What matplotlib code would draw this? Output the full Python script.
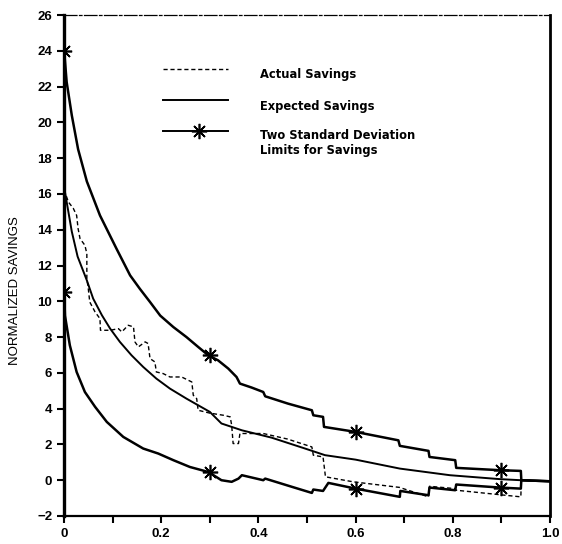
import numpy as np
import matplotlib.pyplot as plt

# ---------------- data ----------------
actual_x = [0, 0.002, 0.009, 0.019, 0.026, 0.029, 0.033, 0.043, 0.047, 0.047, 0.05,
            0.053, 0.064, 0.074, 0.075, 0.095, 0.112, 0.119, 0.132, 0.143, 0.146,
            0.153, 0.167, 0.173, 0.177, 0.187, 0.19, 0.204, 0.218, 0.242, 0.263,
            0.266, 0.273, 0.276, 0.3, 0.328, 0.342, 0.345, 0.348, 0.359, 0.362,
            0.41, 0.46, 0.51, 0.513, 0.533, 0.538, 0.595, 0.69, 0.75, 0.752,
            0.805, 0.807, 0.94, 0.941, 1.0]
actual_y = [17.8, 16.1, 15.55, 15.2, 14.8, 14.06, 13.5, 13.13, 12.66, 11.27, 10.7,
            9.96, 9.4, 9.03, 8.38, 8.38, 8.47, 8.29, 8.66, 8.57, 7.73,
            7.45, 7.73, 7.64, 6.8, 6.61, 6.05, 5.96, 5.77, 5.77, 5.49,
            4.75, 4.56, 3.91, 3.75, 3.63, 3.54, 3.07, 2.05, 2.05, 2.61,
            2.61, 2.3, 1.86, 1.4, 1.3, 0.19, -0.09, -0.4, -0.93, -0.34,
            -0.47, -0.56, -0.93, 0.0, -0.06]

expected_x = [0, 0.002, 0.009, 0.016, 0.028, 0.047, 0.06, 0.078, 0.095, 0.115,
              0.139, 0.163, 0.19, 0.218, 0.252, 0.3, 0.324, 0.366, 0.427, 0.496,
              0.537, 0.6, 0.691, 0.794, 0.897, 0.94, 1.0]
expected_y = [17.8, 16.1, 15.0, 13.9, 12.5, 11.17, 10.15, 9.22, 8.47, 7.73,
              6.98, 6.33, 5.68, 5.12, 4.56, 3.82, 3.17, 2.79, 2.38, 1.77,
              1.4, 1.15, 0.65, 0.28, 0.06, 0.0, -0.06]

upper_x = [0, 0.0055, 0.016, 0.029, 0.047, 0.074, 0.108, 0.136, 0.156,
           0.177, 0.198, 0.225, 0.252, 0.276, 0.297, 0.317, 0.338, 0.355, 0.362,
           0.386, 0.41, 0.414, 0.461, 0.51, 0.513, 0.533, 0.535, 0.6, 0.688,
           0.691, 0.75, 0.752, 0.805, 0.807, 0.897, 0.94, 0.941, 1.0]
upper_y = [24.1, 22.25, 20.4, 18.5, 16.7, 14.8, 12.94, 11.45, 10.7,
           9.96, 9.2, 8.56, 8.0, 7.45, 6.98, 6.7, 6.24, 5.77, 5.4,
           5.18, 4.93, 4.69, 4.28, 3.91, 3.63, 3.54, 2.98, 2.7, 2.23,
           1.92, 1.64, 1.3, 1.12, 0.69, 0.56, 0.52, 0.0, -0.06]

lower_x = [0, 0.002, 0.012, 0.026, 0.043, 0.064, 0.088, 0.122, 0.163, 0.194,
           0.225, 0.259, 0.297, 0.324, 0.345, 0.359, 0.366, 0.41, 0.414, 0.469,
           0.51, 0.513, 0.533, 0.544, 0.6, 0.691, 0.692, 0.75, 0.752, 0.805,
           0.807, 0.897, 0.94, 0.941, 1.0]
lower_y = [10.7, 9.2, 7.54, 6.05, 4.93, 4.1, 3.26, 2.42, 1.77, 1.49,
           1.12, 0.74, 0.46, 0.0, -0.09, 0.09, 0.28, 0.0, 0.09, -0.37,
           -0.71, -0.52, -0.6, -0.15, -0.47, -0.93, -0.6, -0.84, -0.41, -0.56,
           -0.24, -0.41, -0.47, 0.0, -0.06]

star_x = [0, 0.3, 0.6, 0.9]
upper_star_y = [24.0, 6.98, 2.7, 0.55]
lower_star_y = [10.5, 0.45, -0.47, -0.41]

legend_labels = ["Actual Savings", "Expected Savings",
                 "Two Standard Deviation\nLimits for Savings"]

x_ticks = [0, 0.2, 0.4, 0.6, 0.8, 1.0]
x_tick_labels = ["0", "0.2", "0.4", "0.6", "0.8", "1.0"]
y_ticks = list(range(-2, 27, 2))
# -------------------------------------------------------------

plt.rcParams['font.family'] = ['Liberation Sans', 'DejaVu Sans']

fig = plt.figure(figsize=(5.62, 5.44), dpi=100)
ax = fig.add_axes([64 / 562, 28 / 544, 486 / 562, 501 / 544])

star = (8, 2, 0)

ax.plot(actual_x, actual_y, color='black', lw=1.0, ls=(0, (3, 2)))
ax.plot(expected_x, expected_y, color='black', lw=1.4)
ax.plot(upper_x, upper_y, color='black', lw=1.8)
ax.plot(lower_x, lower_y, color='black', lw=1.8)
ax.plot(star_x, upper_star_y, ls='none', marker=star, ms=11, mew=1.2, color='black')
ax.plot(star_x, lower_star_y, ls='none', marker=star, ms=11, mew=1.2, color='black')

ax.set_xlim(0, 1.0)
ax.set_ylim(-2, 26)

ax.set_xticks(x_ticks)
ax.set_xticklabels(x_tick_labels)
ax.set_xticks(np.arange(0.1, 1.0, 0.2), minor=True)
ax.set_yticks(y_ticks)

ax.tick_params(axis='both', which='both', direction='out', length=5, width=1.5,
               labelsize=9.5)
for lab in ax.get_xticklabels() + ax.get_yticklabels():
    lab.set_fontweight('bold')

ax.spines['left'].set_linewidth(2.4)
ax.spines['bottom'].set_linewidth(1.6)
ax.spines['right'].set_linewidth(2.0)
ax.spines['top'].set_linewidth(0.9)
ax.spines['top'].set_linestyle((0, (10, 2, 2, 2)))

ax.set_ylabel('NORMALIZED SAVINGS', fontsize=9.5)
ax.yaxis.set_label_coords(-0.088, 0.45)

# hand-placed legend (handles sit a little above the text, like the original)
hx = [0.204, 0.337]
tx = 0.403
ax.plot(hx, [0.892, 0.892], transform=ax.transAxes, color='black', lw=1.0,
        ls=(0, (3, 2)))
ax.plot(hx, [0.830, 0.830], transform=ax.transAxes, color='black', lw=1.4)
ax.plot(hx, [0.768, 0.768], transform=ax.transAxes, color='black', lw=1.4)
ax.plot([0.277], [0.768], transform=ax.transAxes, color='black', marker=star,
        ms=11, mew=1.2)
for ty, txt in zip([0.882, 0.818, 0.7445], legend_labels):
    ax.text(tx, ty, txt, transform=ax.transAxes, va='center', ha='left',
            fontsize=8.3, fontweight='bold', family='DejaVu Sans',
            linespacing=1.15)

plt.savefig('out.png', dpi=100)
